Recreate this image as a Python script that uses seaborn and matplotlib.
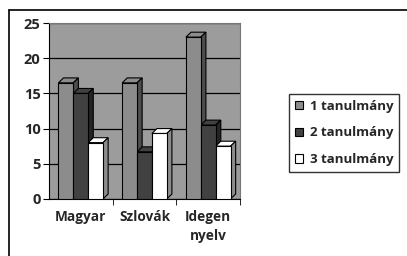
import pandas as pd
import matplotlib.pyplot as plt
import matplotlib.patches as mpatches
from matplotlib.lines import Line2D
import seaborn as sns

categories = ['Magyar', 'Szlovák', 'Idegen\nnyelv']
series     = ['1 tanulmány', '2 tanulmány', '3 tanulmány']
values_1   = [16.5, 16.5, 23.0]
values_2   = [15.0, 6.7, 10.5]
values_3   = [8.0, 9.3, 7.5]
bar_colors = ['#8c8c8c', '#414141', '#ffffff']

df = pd.DataFrame({
    'Tantargy': categories * 3,
    'Ertek': values_1 + values_2 + values_3,
    'Sorozat': [series[0]] * 3 + [series[1]] * 3 + [series[2]] * 3,
})

sns.set_style('white')
plt.rcParams['font.family'] = ['Open Sans', 'DejaVu Sans']

fig = plt.figure(figsize=(4.07, 2.56), dpi=100)
ax = fig.add_axes([0.120, 0.223, 0.470, 0.687])
ax.set_facecolor('#9c9c9c')

sns.barplot(data=df, x='Tantargy', y='Ertek', hue='Sorozat', order=categories,
            hue_order=series, palette=bar_colors, width=0.7, saturation=1,
            edgecolor='black', linewidth=0.8, ax=ax, legend=False, zorder=3)

# fake 3D depth for each bar
dx, dy = 0.08, 0.7
for p in list(ax.patches):
    x0, y0 = p.get_x(), p.get_y()
    w, h = p.get_width(), p.get_height()
    fc = p.get_facecolor()
    top = mpatches.Polygon([(x0, y0 + h), (x0 + dx, y0 + h + dy), (x0 + w + dx, y0 + h + dy), (x0 + w, y0 + h)],
                           closed=True, facecolor=fc, edgecolor='black', linewidth=0.8, zorder=2.9)
    side = mpatches.Polygon([(x0 + w, y0), (x0 + w + dx, y0 + dy), (x0 + w + dx, y0 + h + dy), (x0 + w, y0 + h)],
                            closed=True, facecolor=tuple(c * 0.55 for c in fc[:3]), edgecolor='black',
                            linewidth=0.8, zorder=2.9)
    ax.add_patch(top)
    ax.add_patch(side)

ax.set_xlim(-0.5, 2.5)
ax.set_ylim(0, 25)
ax.set_yticks([0, 5, 10, 15, 20, 25])
ax.yaxis.grid(True, color='black', linewidth=0.9, zorder=1)
ax.set_axisbelow(True)
for s in ['top', 'right']:
    ax.spines[s].set_color('#777777')
for s in ['left', 'bottom']:
    ax.spines[s].set_color('black')
ax.set_xticks([0.5, 1.5, 2.5], minor=True)
ax.tick_params(axis='x', which='major', length=0, pad=8)
ax.tick_params(axis='x', which='minor', length=4, color='black', direction='out')
ax.tick_params(axis='y', length=4, color='black', direction='out', pad=2)
ax.tick_params(axis='x', which='minor', bottom=True)
ax.tick_params(axis='y', left=True)
for lbl in ax.get_xticklabels():
    lbl.set_fontsize(9.8)
    lbl.set_fontweight('bold')
    lbl.set_linespacing(1.45)
for lbl in ax.get_yticklabels():
    lbl.set_fontsize(10.5)
    lbl.set_fontweight('bold')
ax.set_xlabel('')
ax.set_ylabel('')

handles = [mpatches.Patch(facecolor=c, edgecolor='black', linewidth=0.8, label=s)
           for c, s in zip(bar_colors, series)]
leg = fig.legend(handles=handles, loc='upper left', bbox_to_anchor=(0.695, 0.66),
                 prop={'size': 9.5, 'weight': 'bold'}, frameon=True, fancybox=False,
                 handlelength=0.6, handleheight=0.6, handletextpad=0.5,
                 labelspacing=1.05, borderpad=0.45)
leg.get_frame().set_edgecolor('black')
leg.get_frame().set_linewidth(1.0)

# outer chart frame (left and top edges visible)
fig.add_artist(Line2D([0.021, 0.021], [0.0, 0.96], color='black', linewidth=1.2, transform=fig.transFigure))
fig.add_artist(Line2D([0.021, 1.0], [0.96, 0.96], color='black', linewidth=1.2, transform=fig.transFigure))

fig.savefig('out.png', dpi=100)
